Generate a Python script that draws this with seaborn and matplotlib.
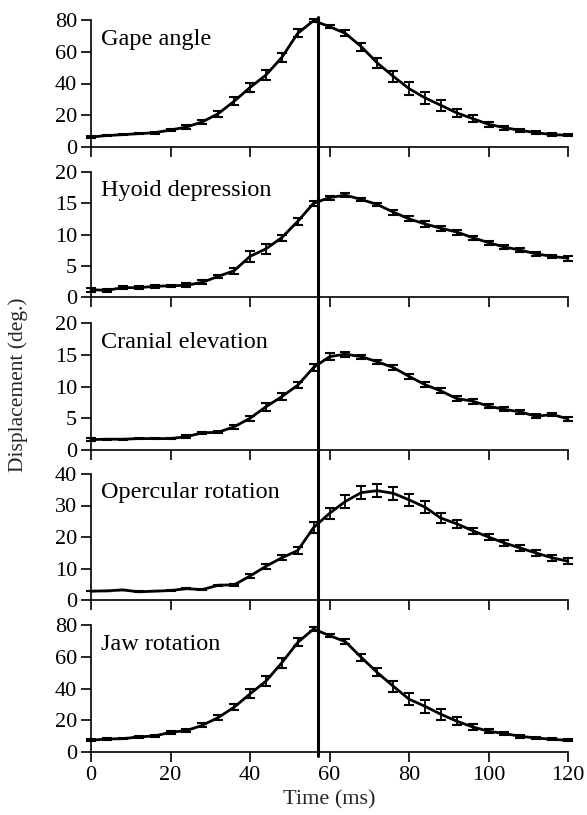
import numpy as np
import pandas as pd
import matplotlib
matplotlib.use("Agg")
import matplotlib.pyplot as plt
import matplotlib.transforms as mtransforms
from matplotlib.lines import Line2D
import seaborn as sns

time_ms = list(range(0, 121, 4))

gape = [6.3, 7.2, 7.8, 8.4, 9.0, 10.7, 12.6, 15.8, 21.0, 28.8, 37.5, 45.3, 56.4, 71.6, 79.6,
        75.8, 71.6, 63.2, 53.0, 44.6, 36.8, 31.0, 26.3, 21.5, 17.9, 14.3, 12.2, 10.5, 9.0, 7.8, 7.4]
gape_se = [0.5, 0.5, 0.5, 0.5, 0.6, 0.8, 1.0, 1.3, 1.8, 2.5, 3.0, 3.0, 2.8, 2.5, 1.0,
           1.0, 1.8, 2.5, 3.0, 3.5, 4.0, 3.8, 3.5, 2.5, 2.0, 1.5, 1.2, 1.0, 0.8, 0.8, 0.7]

hyoid = [1.17, 1.07, 1.5, 1.5, 1.7, 1.8, 1.87, 2.35, 3.3, 4.2, 6.5, 7.7, 9.5, 12.1, 15.0,
         15.9, 16.3, 15.6, 14.8, 13.6, 12.5, 11.7, 11.0, 10.4, 9.5, 8.7, 8.0, 7.5, 6.9, 6.5, 6.2]
hyoid_se = [0.3, 0.2, 0.2, 0.2, 0.2, 0.2, 0.3, 0.3, 0.3, 0.5, 0.9, 0.8, 0.5, 0.5, 0.4,
            0.3, 0.3, 0.3, 0.3, 0.4, 0.4, 0.5, 0.4, 0.4, 0.3, 0.3, 0.3, 0.3, 0.3, 0.3, 0.4]

cranial = [1.64, 1.7, 1.7, 1.8, 1.8, 1.8, 2.1, 2.7, 2.8, 3.65, 5.0, 6.8, 8.4, 10.2, 13.0,
           14.7, 15.1, 14.7, 13.9, 13.0, 11.6, 10.3, 9.3, 8.1, 7.7, 6.9, 6.4, 6.0, 5.3, 5.6, 4.9]
cranial_se = [0.2, 0.1, 0.1, 0.1, 0.1, 0.1, 0.2, 0.2, 0.2, 0.3, 0.4, 0.6, 0.6, 0.5, 0.5,
              0.5, 0.4, 0.3, 0.3, 0.4, 0.4, 0.4, 0.4, 0.4, 0.4, 0.3, 0.3, 0.3, 0.3, 0.3, 0.3]

opercular = [2.8, 2.9, 3.2, 2.6, 2.8, 3.0, 3.6, 3.3, 4.7, 4.8, 7.6, 10.7, 13.4, 15.7, 23.0,
             27.5, 31.3, 34.1, 34.7, 33.9, 31.8, 29.5, 26.0, 24.2, 22.0, 20.0, 18.1, 16.5, 14.9, 13.4, 12.3]
opercular_se = [0.1, 0.1, 0.1, 0.1, 0.1, 0.1, 0.1, 0.1, 0.2, 0.2, 0.6, 0.8, 0.8, 1.0, 1.8,
                1.8, 2.0, 2.0, 2.0, 2.0, 1.8, 1.8, 1.5, 1.2, 1.0, 1.0, 0.9, 0.9, 1.0, 0.9, 1.0]

jaw = [7.4, 8.2, 8.4, 9.5, 10.1, 12.4, 13.5, 16.8, 21.7, 28.2, 36.6, 44.6, 56.2, 69.0, 77.5,
       73.3, 69.5, 59.6, 50.1, 41.5, 33.3, 28.8, 23.8, 19.4, 15.8, 13.1, 11.6, 9.9, 8.8, 8.0, 7.4]
jaw_se = [0.5, 0.5, 0.5, 0.5, 0.6, 0.8, 1.0, 1.2, 1.5, 2.0, 2.8, 3.0, 3.0, 2.5, 1.2,
          1.0, 1.5, 2.0, 2.5, 3.5, 4.0, 4.0, 3.5, 2.5, 1.8, 1.2, 1.0, 0.8, 0.7, 0.6, 0.6]

panel_names = ["Gape angle", "Hyoid depression", "Cranial elevation", "Opercular rotation", "Jaw rotation"]
panel_values = [gape, hyoid, cranial, opercular, jaw]
panel_errors = [gape_se, hyoid_se, cranial_se, opercular_se, jaw_se]
panel_ymax = [80, 20, 20, 40, 80]
panel_yticks = [[0, 20, 40, 60, 80], [0, 5, 10, 15, 20], [0, 5, 10, 15, 20],
                [0, 10, 20, 30, 40], [0, 20, 40, 60, 80]]
x_ticks = [0, 20, 40, 60, 80, 100, 120]
event_time = 57

sns.set_style("ticks")
plt.rcParams['font.family'] = ['Liberation Serif', 'DejaVu Serif']
plt.rcParams['mathtext.fontset'] = 'stix'

W, H = 587, 815
fig = plt.figure(figsize=(W / 100, H / 100), dpi=100)

left_px, right_px = 91, 568
tops_px = [20, 172, 323, 474, 625]
bottoms_px = [147, 297, 450, 600, 752]

axes = []
for i in range(5):
    t, b = tops_px[i], bottoms_px[i]
    ax = fig.add_axes([left_px / W, 1 - b / H, (right_px - left_px) / W, (b - t) / H])
    df = pd.DataFrame({"time": time_ms, "value": panel_values[i]})
    sns.lineplot(data=df, x="time", y="value", ax=ax, color="black", linewidth=2.0,
                 estimator=None, errorbar=None, legend=False)
    ax.errorbar(time_ms, panel_values[i], yerr=panel_errors[i], fmt="none", ecolor="black",
                elinewidth=1.3, capsize=3.6, capthick=1.5, clip_on=False)
    for coll in ax.collections + ax.lines:
        coll.set_clip_on(False)
    ax.set_xlim(0, 120)
    ax.set_ylim(0, panel_ymax[i])
    ax.set_yticks(panel_yticks[i])
    ax.set_xticks(x_ticks)
    ax.set_xlabel("")
    ax.set_ylabel("")
    sns.despine(ax=ax)
    for s in ["left", "bottom"]:
        ax.spines[s].set_linewidth(1.2)
        ax.spines[s].set_color("black")
    ax.tick_params(axis="both", direction="out", length=7, width=1.2, colors="black",
                   labelsize=16, pad=3)
    if i < 4:
        ax.tick_params(axis="x", labelbottom=False)
    ax.text(0.022, 0.85, panel_names[i], transform=ax.transAxes, fontsize=17.5,
            ha="left", va="center", color="black")
    ax.set_facecolor("none")
    axes.append(ax)

axes[-1].set_xlabel("Time (ms)", fontsize=16, labelpad=4)
fig.text(18 / W, 1 - 385 / H, "Displacement (deg.)", rotation=90, fontsize=15.5,
         ha="center", va="center")

trans = mtransforms.blended_transform_factory(axes[-1].transData, fig.transFigure)
fig.add_artist(Line2D([event_time, event_time], [1 - 756 / H, 1 - 17 / H], transform=trans,
                      color="black", linewidth=2.2))

fig.savefig("out.png", dpi=100)
